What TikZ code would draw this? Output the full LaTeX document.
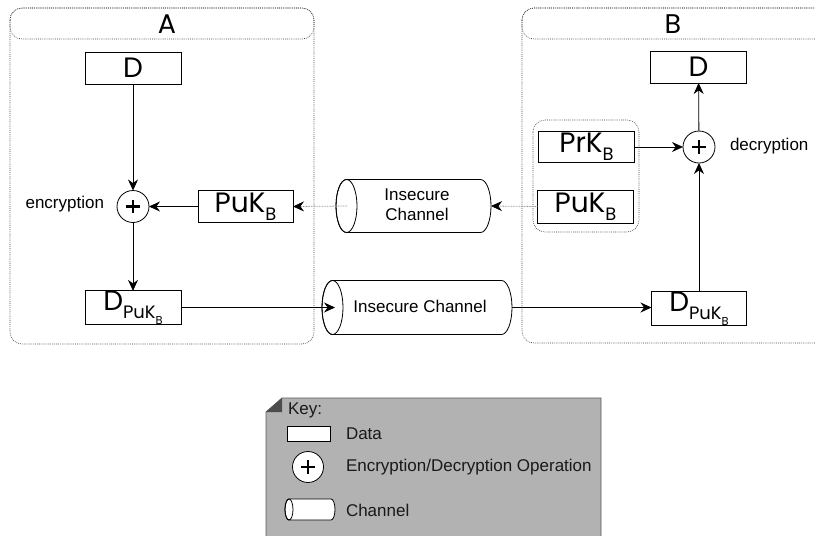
\documentclass[tikz,border=0pt]{standalone}
\usepackage{fontspec}
\setmainfont{Liberation Sans}
\newfontfamily\geofont{Poppins}
\usetikzlibrary{arrows.meta,calc}

% lowered, smaller index text
\newcommand{\lowsub}[1]{\raisebox{-0.3em}{\scalebox{0.64}{#1}}}

% horizontal channel (cylinder) drawn round a named node; #1 name, #2 end radius
\newcommand{\chanoutline}[2]{%
  \draw[line width=0.8pt, fill=white]
    let \p1=(#1.north west), \p2=(#1.south east), \n1={(\y1-\y2)/2} in
    (\x1+#2,\y1) -- (\x2-#2,\y1)
    arc[start angle=90, end angle=-90, x radius=#2, y radius=\n1]
    -- (\x1+#2,\y2)
    arc[start angle=270, end angle=90, x radius=#2, y radius=\n1];
  \draw[line width=0.8pt]
    let \p1=(#1.west), \p2=(#1.north) in
    ([xshift=#2]#1.west) ellipse[x radius=#2, y radius=\y2-\y1];
}

\tikzset{
  every node/.style={inner sep=0pt, outer sep=0pt},
  databox/.style={draw, line width=0.8pt, fill=white, minimum width=96pt,
    minimum height=32pt, font=\geofont\fontsize{28}{28}\selectfont},
  opcircle/.style={draw, circle, line width=0.8pt, fill=white, minimum size=#1,
    path picture={
      \draw[line width=2.3pt]
        ([xshift=-0.21*#1]path picture bounding box.center) --
        ([xshift=0.21*#1]path picture bounding box.center)
        ([yshift=-0.21*#1]path picture bounding box.center) --
        ([yshift=0.21*#1]path picture bounding box.center);}},
  opcircle/.default=32pt,
  channode/.style={minimum width=#1, align=center, font=\fontsize{17}{20}\selectfont},
  paneline/.style={draw=black!75, line width=0.6pt, dash pattern=on 0.8pt off 1.1pt,
    rounded corners=12pt},
  title/.style={font=\geofont\fontsize{27}{27}\selectfont},
  caption/.style={font=\fontsize{17}{20}\selectfont},
  flow/.style={line width=0.8pt, -{Stealth[length=11pt, width=10pt, inset=3.6pt]}},
  keyflow/.style={line width=0.8pt, draw=black!45, dash pattern=on 0.8pt off 0.8pt,
    -{Stealth[length=11pt, width=10pt, inset=3.6pt, black]}},
}

\begin{document}
\begin{tikzpicture}[x=1pt, y=-1pt]
\useasboundingbox (0,0) rectangle (815,536);
\begin{scope}
\clip (0,0) rectangle (815,536);

% ---- party A ----
\draw[paneline] (10,8) rectangle (314,344);
\draw[paneline] (10,8) rectangle (314,39);
\node[title] (tA) at (167,24) {A};

\node[databox] (dA) at (133,68) {D};
\node[opcircle] (plusA) at (133,206.5) {};
\node[caption, anchor=east] (encl) at (104,204) {encryption};
\node[databox, minimum width=95pt] (pukA) at (245.5,206.5) {PuK\lowsub{B}};
\node[databox] (dpA) at (133,307.5) {D\lowsub{PuK\lowsub{B}}};

% ---- party B ----
\draw[paneline] (522,8) rectangle (840,343);
\draw[paneline] (522,8) rectangle (840,39);
\node[title] (tB) at (673,24) {B};

\draw[paneline] (533,120) rectangle (639,232);
\node[databox, minimum height=31pt] (prkB) at (586.5,147) {PrK\lowsub{B}};
\node[databox, minimum height=33pt] (pukB) at (585.5,206.5) {PuK\lowsub{B}};
\node[opcircle] (plusB) at (699,147) {};
\node[caption, anchor=west] (decl) at (730,146) {decryption};
\node[databox] (dB) at (698.5,67) {D};
\node[databox, minimum width=95pt] (dpB) at (699,308.5) {D\lowsub{PuK\lowsub{B}}};

% ---- channels ----
\node[channode=155pt, minimum height=53pt] (chanU) at (413.5,206) {};
\chanoutline{chanU}{10.5pt}
\node[caption, align=center] (chanUt) at (417,205) {Insecure\\Channel};

\node[channode=190pt, minimum height=54pt] (chanL) at (417,307.5) {};
\chanoutline{chanL}{10.5pt}
\node[caption] (chanLt) at (420,306) {Insecure Channel};

% ---- connectors ----
\draw[flow] (dA) -- (plusA);
\draw[flow] (pukA) -- (plusA);
\draw[flow] (plusA) -- (dpA);
\draw[flow] (dpA.east) -- ([xshift=13pt]chanL.west);
\draw[flow] (chanL.east) -- (chanL.east -| dpB.west);
\draw[flow] (dpB) -- (plusB);
\draw[flow] (prkB) -- (plusB);
\draw[flow] (plusB) -- (dB);
\draw[keyflow] (pukB.west) -- (chanU.east);
\draw[keyflow] ([xshift=11pt]chanU.west) -- (pukA.east);

% ---- key ----
\draw[draw=black!65, line width=0.8pt, fill=black!30]
  (266,412) -- (282,398) -- (601,398) -- (601,560) -- (266,560) -- cycle;
\fill[black!70] (266,412) -- (282,398) -- (282,412) -- cycle;
\node[caption, anchor=west, text=black!90] (keyt) at (288,410) {Key:};

\node[draw, fill=white, line width=0.6pt, minimum width=43pt, minimum height=15pt]
  (keyd) at (308.5,433.5) {};
\node[caption, anchor=west, text=black!90] (keydt) at (346,434) {Data};

\node[opcircle=31pt] (keyo) at (308,467) {};
\node[caption, anchor=west, text=black!90] (keyot) at (346,467) {Encryption/Decryption Operation};

\node[minimum width=50pt, minimum height=21pt] (keyc) at (310,509.5) {};
\chanoutline{keyc}{4pt}
\node[caption, anchor=west, text=black!90] (keyct) at (346,510) {Channel};
\end{scope}
\end{tikzpicture}
\end{document}
